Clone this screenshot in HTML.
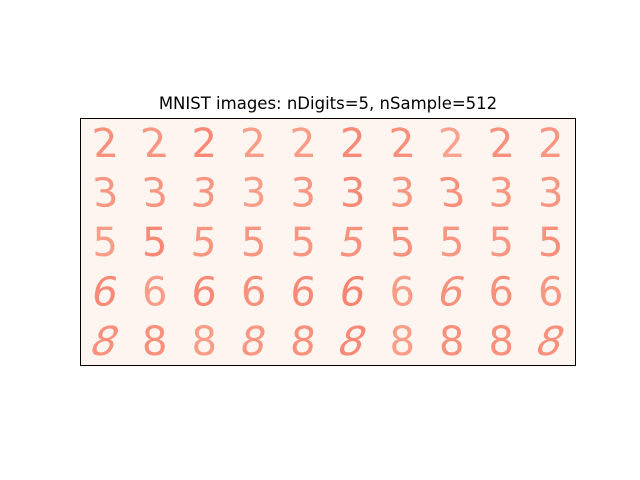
<!DOCTYPE html>
<html>
<head>
<meta charset="utf-8">
<style>
  html, body { margin: 0; padding: 0; background: #ffffff; }
  body { width: 640px; height: 480px; overflow: hidden; }
  svg { display: block; }
</style>
</head>
<body>
<svg id="chart" width="640" height="480" viewBox="0 0 640 480">
  <text x="328" y="109" text-anchor="middle" font-family="DejaVu Sans, Liberation Sans, sans-serif" font-size="16.5" fill="#000">MNIST images: nDigits=5, nSample=512</text>
  <rect x="80.5" y="118.5" width="495" height="247" fill="#fff5f0" stroke="none"/>
  <g id="cells"></g>
  <rect x="80.5" y="118.5" width="495" height="247" fill="none" stroke="#000" stroke-width="1"/>
</svg>
<script>
const rowDigits = [2, 3, 5, 6, 8];
const samplesPerRow = 10;
const intensity = [
  [0.55, 0.5, 0.6, 0.45, 0.45, 0.6, 0.55, 0.4, 0.55, 0.5],
  [0.5, 0.5, 0.5, 0.45, 0.5, 0.6, 0.5, 0.55, 0.5, 0.5],
  [0.45, 0.6, 0.5, 0.5, 0.5, 0.55, 0.55, 0.5, 0.5, 0.55],
  [0.6, 0.45, 0.6, 0.55, 0.6, 0.65, 0.45, 0.55, 0.55, 0.5],
  [0.55, 0.55, 0.45, 0.5, 0.55, 0.6, 0.45, 0.55, 0.55, 0.55]
];
const slant = [
  [-5, -10, 0, -5, -5, 0, -5, -5, -5, 0],
  [-5, -5, 5, 0, 0, 0, 0, -10, 0, 0],
  [0, 0, 5, 0, 0, 10, -5, 0, 0, 0],
  [10, 0, 5, 0, 5, 10, 0, 15, 0, 0],
  [20, 0, 0, 10, 5, 20, 0, 0, 0, 20]
];

const x0 = 80.5, y0 = 118.5, W = 495, H = 247;
const cw = W / samplesPerRow, ch = H / rowDigits.length;
const xPos = i => x0 + cw * (i + 0.5);
const yPos = j => y0 + ch * (j + 0.5);
function color(v) {
  const r = 252 - Math.round(v * 8);
  const g = Math.round(215 - v * 130);
  const b = Math.round(190 - v * 120);
  return `rgb(${r},${g},${b})`;
}
const g = document.getElementById('cells');
const ns = 'http://www.w3.org/2000/svg';
rowDigits.forEach((d, j) => {
  for (let i = 0; i < samplesPerRow; i++) {
    const t = document.createElementNS(ns, 'text');
    
    
    const x = xPos(i), y = yPos(j);
    t.setAttribute('x', x);
    t.setAttribute('y', y + 14);
    t.setAttribute('text-anchor', 'middle');
    t.setAttribute('font-family', 'DejaVu Sans, Liberation Sans, sans-serif');
    t.setAttribute('font-size', '40');
    t.setAttribute('font-weight', 'normal');
    const c = color(intensity[j][i]);
    t.setAttribute('fill', c);
    t.setAttribute('transform', `skewX(${-slant[j][i]}) translate(${Math.tan(slant[j][i]*Math.PI/180)*y},0)`);
    t.textContent = String(d);
    g.appendChild(t);
  }
});
</script>
</body>
</html>
